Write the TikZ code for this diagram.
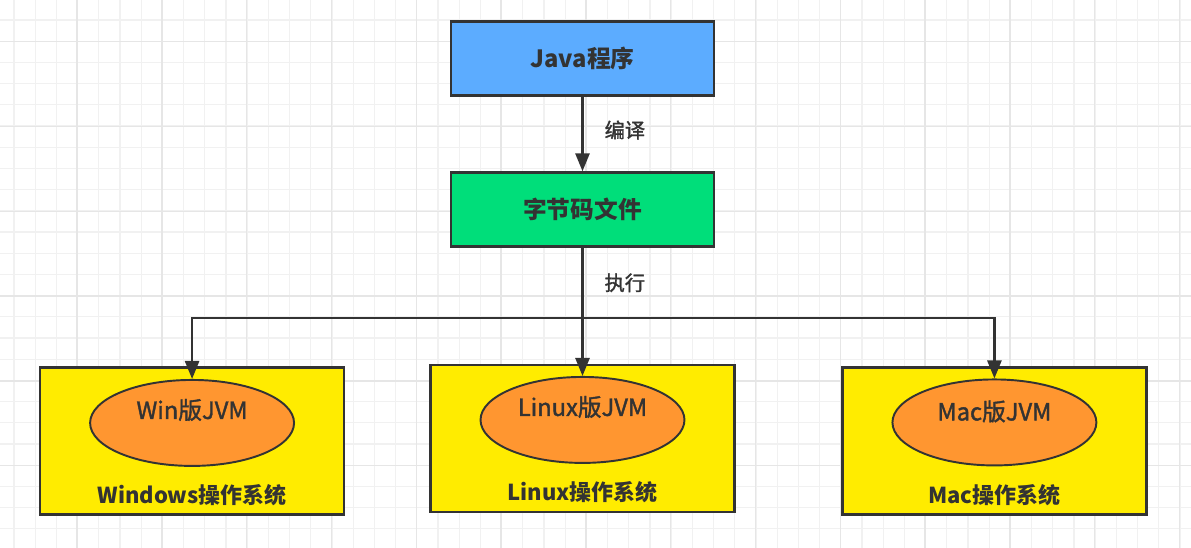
\documentclass[tikz,border=0pt]{standalone}
\usepackage{fontspec}
\usepackage{tikz}
\usetikzlibrary{shapes,arrows.meta,positioning}
\setmainfont{Noto Sans CJK SC}
\newfontfamily\midfont{Noto Sans CJK SC}[FakeBold=1.6]
\definecolor{javablue}{RGB}{92,172,255}
\definecolor{codegreen}{RGB}{0,222,122}
\definecolor{osyellow}{RGB}{255,236,0}
\definecolor{jvmorange}{RGB}{255,150,48}
\definecolor{inkgray}{RGB}{51,51,51}
\definecolor{gridminor}{RGB}{241,241,241}
\definecolor{gridmajor}{RGB}{230,230,230}

\begin{document}
\begin{tikzpicture}[x=0.02cm, y=-0.02cm,
  topbox/.style={draw=inkgray, line width=1.3pt, rectangle, minimum width=5.26cm, minimum height=1.48cm, text=inkgray, font=\fontsize{13.5}{16}\selectfont\bfseries},
  osbox/.style={draw=inkgray, line width=1.3pt, rectangle, fill=osyellow, minimum width=6.08cm, minimum height=2.94cm},
  jvm/.style={draw=inkgray, line width=1.1pt, ellipse, fill=jvmorange, minimum width=4.08cm, minimum height=1.72cm},
  jvmtext/.style={text=inkgray, font=\fontsize{13.5}{16}\selectfont\midfont},
  ostext/.style={text=inkgray, font=\fontsize{12.5}{15}\selectfont\bfseries},
  edgetext/.style={text=inkgray, font=\fontsize{11.5}{14}\selectfont\midfont},
  flow/.style={draw=inkgray, line width=1.5pt, -{Triangle[length=0.36cm, width=0.28cm]}}]
\useasboundingbox (0,0) rectangle (1191,548);
% background grid
\foreach \gx in {0,...,55}
  \draw[gridminor, line width=0.6pt] ({14+21.2*\gx},0) -- ({14+21.2*\gx},548);
\foreach \gy in {0,...,25}
  \draw[gridminor, line width=0.6pt] (0,{20+21.2*\gy}) -- (1191,{20+21.2*\gy});
\foreach \gx in {0,...,13}
  \draw[gridmajor, line width=0.8pt] ({77+84.8*\gx},0) -- ({77+84.8*\gx},548);
\foreach \gy in {0,...,6}
  \draw[gridmajor, line width=0.8pt] (0,{41.7+84.8*\gy}) -- (1191,{41.7+84.8*\gy});

% source and bytecode
\node[topbox, fill=javablue] (java) at (582.5,58.5) {Java程序};
\node[topbox, fill=codegreen] (bytecode) [below of=java, node distance=3.02cm] {字节码文件};
\coordinate (split) at ([yshift=-2.17cm]bytecode.center);

% operating systems
\node[osbox] (linux) [below of=bytecode, node distance=4.58cm] {};
\node[osbox] (win) [left of=linux, node distance=7.81cm, yshift=-0.05cm] {};
\node[osbox] (mac) [right of=linux, node distance=8.24cm, yshift=-0.05cm] {};

\node[jvm] (winjvm) [above of=win, node distance=0.36cm] {};
\node[jvm] (linuxjvm) [above of=linux, node distance=0.37cm] {};
\node[jvm] (macjvm) [above of=mac, node distance=0.37cm] {};

\node[jvmtext] (winjvmtxt) at ([yshift=0.26cm]winjvm.center) {Win版JVM};
\node[jvmtext] (linuxjvmtxt) at ([yshift=0.26cm]linuxjvm.center) {Linux版JVM};
\node[jvmtext] (macjvmtxt) at ([yshift=0.22cm]macjvm.center) {Mac版JVM};

\node[ostext] (wintxt) at ([yshift=-1.08cm]win.center) {Windows操作系统};
\node[ostext] (linuxtxt) at ([yshift=-1.08cm]linux.center) {Linux操作系统};
\node[ostext] (mactxt) at ([yshift=-1.08cm]mac.center) {Mac操作系统};

% connectors
\draw[flow] (java) -- (bytecode) node[midway, right=0.3cm, yshift=0.08cm, edgetext] {编译};
\draw[draw=inkgray, line width=1.5pt] (bytecode) -- (split) node[midway, right=0.3cm, edgetext] {执行};
\draw[flow] (split) -| (winjvm.north);
\draw[flow] (split) -- (linuxjvm.north);
\draw[flow] (split) -| (macjvm.north);
\end{tikzpicture}
\end{document}
